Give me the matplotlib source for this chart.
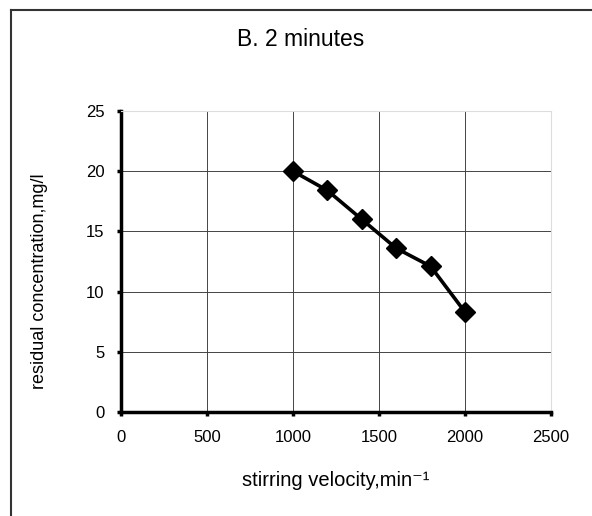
import matplotlib
matplotlib.use("Agg")
import matplotlib.pyplot as plt
from matplotlib.lines import Line2D

plt.rcParams['font.family'] = ['Liberation Sans', 'DejaVu Sans']

velocity = [1000, 1200, 1400, 1600, 1800, 2000]
concentration = [20.0, 18.4, 16.0, 13.6, 12.1, 8.3]
x_ticks = [0, 500, 1000, 1500, 2000, 2500]
y_ticks = [0, 5, 10, 15, 20, 25]

fig = plt.figure(figsize=(5.92, 5.16), dpi=100)
ax = fig.add_axes([121/592, (516-412)/516, 430/592, 301/516])

ax.set_xlim(0, 2500)
ax.set_ylim(0, 25)
ax.set_xticks(x_ticks)
ax.set_yticks(y_ticks)
ax.grid(True, color='#444444', linewidth=0.7)
ax.set_axisbelow(True)

ax.plot(velocity, concentration, color='black', linewidth=2.6, marker='D',
        markersize=10.5, markerfacecolor='black', markeredgecolor='black', zorder=3, clip_on=False)

for s in ['left', 'bottom']:
    ax.spines[s].set_linewidth(2.5)
    ax.spines[s].set_color('black')
ax.spines['top'].set_color('#dddddd')
ax.spines['top'].set_linewidth(0.8)
ax.spines['right'].set_color('#dddddd')
ax.spines['right'].set_linewidth(0.8)

ax.tick_params(axis='both', direction='out', length=3, width=2.5, labelsize=12, color='black')
ax.tick_params(axis='x', pad=10)
ax.tick_params(axis='y', pad=9)

ax.set_xlabel('stirring velocity,min\u207b\u00b9', fontsize=14.5)
ax.set_ylabel('residual concentration,mg/l', fontsize=13)
ax.xaxis.set_label_coords((336 - 121) / 430, -(481 - 412) / 301)
ax.yaxis.set_label_coords(-(121 - 40) / 430, (412 - 281) / 301)
ax.xaxis.label.set_va('center')
ax.yaxis.label.set_va('center')

fig.text(301/592, 1 - 40/516, 'B. 2 minutes', ha='center', va='center', fontsize=16.5)

# outer frame (left and top edges)
fig.add_artist(Line2D([11/592, 11/592], [0, 1 - 10/516], transform=fig.transFigure,
                      color='#333333', linewidth=1.5))
fig.add_artist(Line2D([11/592, 1], [1 - 10/516, 1 - 10/516], transform=fig.transFigure,
                      color='#333333', linewidth=1.5))

fig.savefig('out.png', dpi=100)
